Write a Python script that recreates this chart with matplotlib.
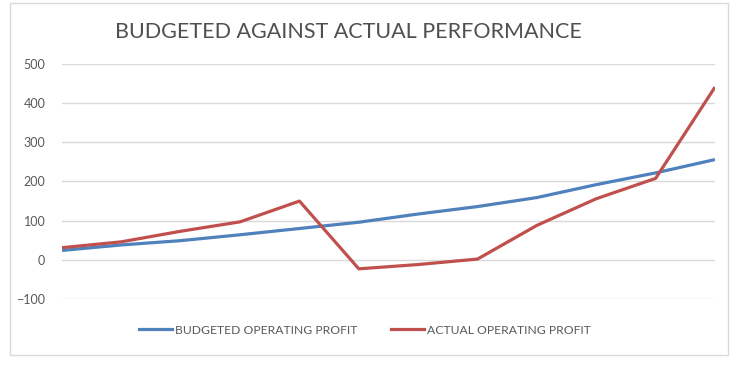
import matplotlib.pyplot as plt
from matplotlib.patches import Rectangle
from matplotlib.lines import Line2D

# Werte
periods = list(range(12))
budgeted = [24, 38, 49, 64, 80, 96, 117, 136, 159, 192, 222, 256]
actual = [31, 46, 73, 97, 150, -23, -12, 2, 88, 156, 208, 441]
y_ticks = [-100, 0, 100, 200, 300, 400, 500]

blue = '#4F81BD'
red = '#C0504D'
txt = '#595959'

plt.rcParams['font.family'] = ['Lato', 'DejaVu Sans']

fig = plt.figure(figsize=(7.39, 3.65), dpi=100)
W, H = 739, 365

# Rahmen um das Diagramm
fig.patches.append(Rectangle((10 / W, 1 - 355 / H), 718 / W, 352 / H,
                             transform=fig.transFigure, fill=False,
                             edgecolor='#D9D9D9', linewidth=1))

ax = fig.add_axes([62 / W, 1 - 299 / H, (715 - 62) / W, (299 - 64) / H])
ax.plot(periods, budgeted, color=blue, linewidth=2.3, solid_capstyle='butt')
ax.plot(periods, actual, color=red, linewidth=2.3, solid_capstyle='butt')

ax.set_xlim(0, 11)
ax.set_ylim(-100, 500)
ax.set_yticks(y_ticks)
ax.set_xticks([])
ax.grid(axis='y', color='#D9D9D9', linewidth=1)
ax.set_axisbelow(True)
for s in ax.spines.values():
    s.set_visible(False)
ax.tick_params(axis='y', length=0, pad=12, labelsize=9, labelcolor=txt)

fig.text(348 / W, 1 - 32 / H, 'BUDGETED AGAINST ACTUAL PERFORMANCE',
         ha='center', va='center', fontsize=15.5, color='#505050')

handles = [Line2D([], [], color=blue, linewidth=2.3),
           Line2D([], [], color=red, linewidth=2.3)]
fig.legend(handles, ['BUDGETED OPERATING PROFIT', 'ACTUAL OPERATING PROFIT'],
           loc='center', bbox_to_anchor=(365 / W, 1 - 330 / H), ncol=2,
           frameon=False, fontsize=8.7, labelcolor=txt, handlelength=2.75,
           handletextpad=0.25, columnspacing=2.75)

fig.savefig('out.png', dpi=100)
